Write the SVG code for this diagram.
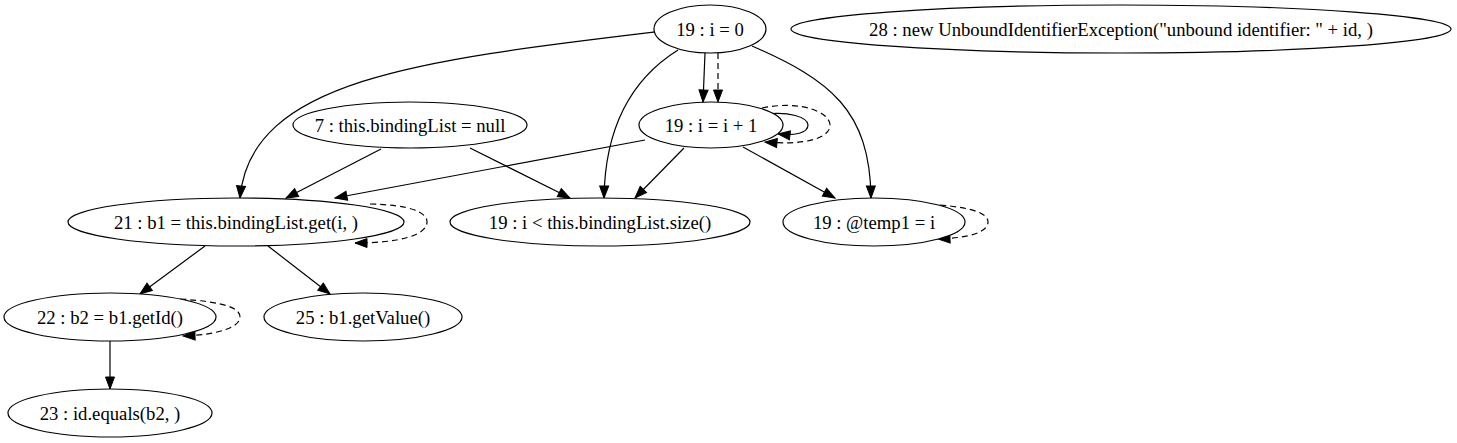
<svg xmlns="http://www.w3.org/2000/svg" width="1457" height="443" viewBox="0 0 1457 443">
<style>
.node ellipse{fill:#fff;stroke:#000;stroke-width:1.2}
.node text{font-family:"Liberation Serif","Times New Roman",serif;font-size:18.7px;text-anchor:middle;fill:#000}
.edges path{fill:none;stroke:#000;stroke-width:1.2;marker-end:url(#arr)}
.edges path.d{stroke-dasharray:6,4}
</style>
<defs>
<marker id="arr" markerUnits="userSpaceOnUse" markerWidth="14" markerHeight="12" refX="12" refY="4.5" orient="auto" overflow="visible">
<polygon points="0,0 12,4.5 0,9" fill="#000" stroke="#000" stroke-dasharray="none"/>
</marker>
</defs>
<rect width="1457" height="443" fill="#fff"/>
<g class="edges" id="edges">
<path d="M655,32 C420,60 250,80 240,198"/>
<path d="M705,53 L703,102"/>
<path class="d" d="M718,53 L718,102"/>
<path d="M678,50 C630,80 605,130 604,198"/>
<path d="M752,46 C830,80 870,110 871,198"/>
<path d="M760,115 C790,110 808,118 808,125 C808,133 795,136 778,134"/>
<path class="d" d="M762,108 C800,100 830,112 830,125 C830,140 800,145 765,142"/>
<path d="M381,149 L286,198"/>
<path d="M470,148 L570,198"/>
<path d="M645,140 L335,198"/>
<path d="M684,148 L635,198"/>
<path d="M743,147 L835,198"/>
<path class="d" d="M370,204 C410,205 427,212 427,222 C427,235 400,243 355,243"/>
<path class="d" d="M940,205 C975,208 988,214 988,222 C988,232 970,238 938,239"/>
<path d="M205,246 L140,294"/>
<path d="M268,246 L330,294"/>
<path class="d" d="M180,299 C225,302 240,308 240,317 C240,328 215,335 183,336"/>
<path d="M110,341 L110,389"/>
</g>
<g class="node" id="n_i0"><ellipse cx="710" cy="29" rx="56" ry="24"/><text x="710" y="35.5">19 : i = 0</text></g>
<g class="node" id="n_exc"><ellipse cx="1121" cy="29" rx="330" ry="24"/><text x="1121" y="35.5">28 : new UnboundIdentifierException("unbound identifier: " + id, )</text></g>
<g class="node" id="n_inc"><ellipse cx="711" cy="125" rx="72" ry="23"/><text x="711" y="131.5">19 : i = i + 1</text></g>
<g class="node" id="n_null"><ellipse cx="410" cy="125" rx="117" ry="23"/><text x="410" y="131.5">7 : this.bindingList = null</text></g>
<g class="node" id="n_b1"><ellipse cx="236" cy="222" rx="168" ry="24"/><text x="236" y="228.5">21 : b1 = this.bindingList.get(i, )</text></g>
<g class="node" id="n_cmp"><ellipse cx="600" cy="222" rx="150" ry="24"/><text x="600" y="228.5">19 : i &lt; this.bindingList.size()</text></g>
<g class="node" id="n_tmp"><ellipse cx="874" cy="222" rx="91" ry="24"/><text x="874" y="228.5">19 : @temp1 = i</text></g>
<g class="node" id="n_b2"><ellipse cx="110" cy="317" rx="106" ry="24"/><text x="110" y="323.5">22 : b2 = b1.getId()</text></g>
<g class="node" id="n_val"><ellipse cx="363" cy="317" rx="99" ry="24"/><text x="363" y="323.5">25 : b1.getValue()</text></g>
<g class="node" id="n_eq"><ellipse cx="110" cy="413" rx="102" ry="24"/><text x="110" y="419.5">23 : id.equals(b2, )</text></g>
</svg>
